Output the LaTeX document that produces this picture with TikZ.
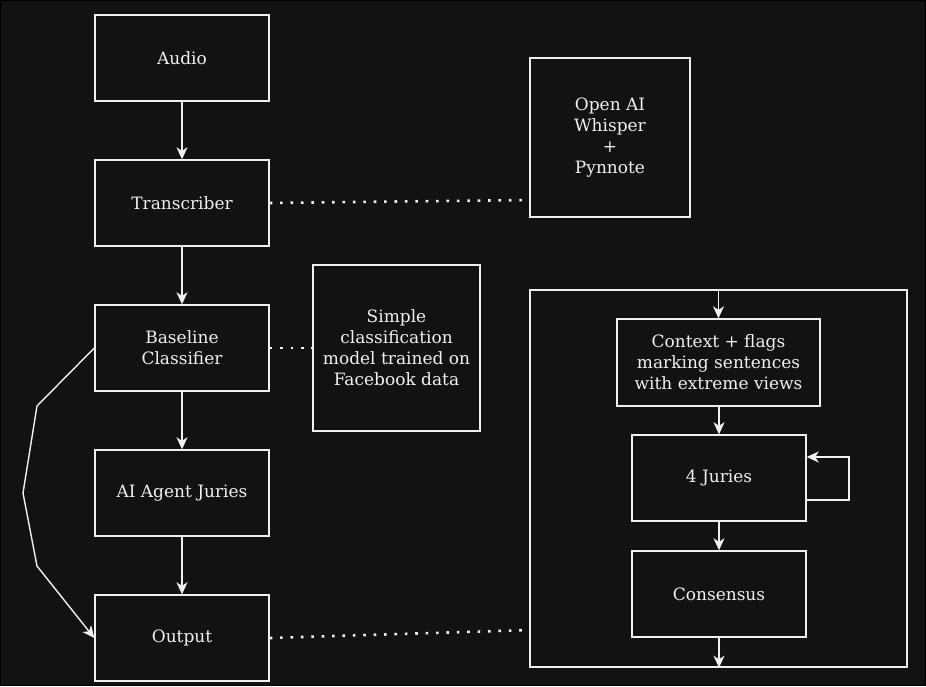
\documentclass[tikz,border=0pt]{standalone}
\usepackage{fontspec}
\setmainfont{DejaVu Serif}
\usetikzlibrary{arrows.meta,positioning,calc}
\definecolor{bg}{HTML}{121212}
\definecolor{fg}{HTML}{F0F0F0}
\begin{document}
\begin{tikzpicture}[x=1pt,y=-1pt,
  box/.style={draw=fg,fill=bg,line width=1.4pt,text=fg,align=center,inner sep=0pt,
    font=\fontsize{17}{20.9}\selectfont},
  arr/.style={draw=fg,line width=1.4pt,-{Stealth[length=12pt,width=11pt,inset=3.5pt]}},
  dotline/.style={draw=fg,line width=2.6pt,line cap=butt,dash pattern=on 2.6pt off 7.8pt}]
\path[fill=bg,draw=black,line width=1pt] (0.5,0.5) rectangle (925.5,685.5);
\useasboundingbox (0,0) rectangle (926,686);
% left column
\node[box,minimum width=174pt,minimum height=86pt] (audio) at (182,58) {\raisebox{-1.5pt}{Audio}};
\node[box,minimum width=174pt,minimum height=86pt] (trans) at (182,203) {\raisebox{-1.5pt}{Transcriber}};
\node[box,minimum width=174pt,minimum height=86pt] (base) at (182,348) {Baseline\\Classifier};
\node[box,minimum width=174pt,minimum height=86pt] (jury) at (182,493) {\raisebox{-1.5pt}{AI Agent Juries}};
\node[box,minimum width=174pt,minimum height=86pt] (out) at (182,638) {\raisebox{-1.5pt}{Output}};
% side boxes
\node[box,minimum width=160pt,minimum height=159pt] (whisper) at (610,137.5) {Open AI\\ Whisper\\+\\Pynnote};
\node[box,minimum width=167pt,minimum height=166pt] (simple) at (396.5,348) {Simple\\classification\\model trained on\\Facebook data};
% container
\node[box,minimum width=377pt,minimum height=377pt] (cont) at (718.5,478.5) {};
\node[box,minimum width=203pt,minimum height=87pt] (ctx) at (718.5,362.5) {Context + flags\\marking sentences\\with extreme views};
\node[box,minimum width=174pt,minimum height=86pt] (four) at (719,478) {\raisebox{-1.5pt}{4 Juries}};
\node[box,minimum width=174pt,minimum height=86pt] (cons) at (719,594) {\raisebox{-1.5pt}{Consensus}};
% arrows
\draw[arr] (audio) -- (trans);
\draw[arr] (trans) -- (base);
\draw[arr] (base) -- (jury);
\draw[arr] (jury) -- (out);
\draw[arr] (base.west) -- (37,406) -- (23,493) -- (37,566) -- (out.west);
\draw[arr] (cont.north -| ctx.north) -- (ctx.north);
\draw[arr] (ctx.south -| four.north) -- (four.north);
\draw[arr] (four) -- (cons);
\draw[arr] (cons.south) -- (cons.south |- cont.south);
\coordinate (la) at (849,500);
\coordinate (lb) at (849,457);
\draw[arr] (four.east |- la) -- (la) -- (lb) -- (four.east |- lb);
% dotted links
\draw[dotline] (trans.east) -- (whisper.west |- 0,200);
\draw[dotline] (base.east) -- (simple.west);
\draw[dotline] (out.east) -- (cont.west |- 0,630);
\end{tikzpicture}
\end{document}
